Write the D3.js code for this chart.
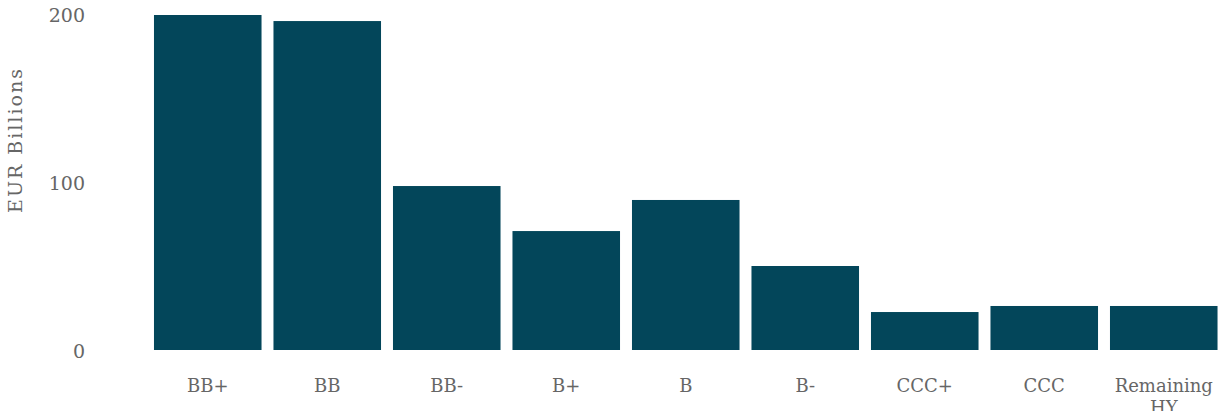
<!DOCTYPE html>
<html><head><meta charset="utf-8">
<script src="https://cdn.jsdelivr.net/npm/d3@7"></script>
<style>body{margin:0;background:#fff}svg{display:block}text{font-family:"DejaVu Serif","Liberation Serif",serif;fill:#666}</style>
</head><body><svg id="c" width="1219" height="411"></svg>
<script>
const categories = ["BB+","BB","BB-","B+","B","B-","CCC+","CCC","Remaining HY"];
const values = [199.4,195.8,97.6,70.8,89.3,50.0,22.6,26.2,26.2];
const yTicks = [0,100,200];
const yLabel = "EUR Billions";

const svg = d3.select("#c");
const x = d3.scaleBand().domain(categories).range([148,1223.5]).paddingInner(0.1).paddingOuter(0.05);
const y = d3.scaleLinear().domain([0,200]).range([350,14]);

svg.append("g").selectAll("rect").data(categories).join("rect")
  .attr("x",d=>x(d)).attr("width",x.bandwidth())
  .attr("y",(d,i)=>y(values[i])).attr("height",(d,i)=>y(0)-y(values[i]))
  .attr("fill","#03465a");

svg.append("g").selectAll("text").data(yTicks).join("text")
  .attr("x",85).attr("y",d=>y(d)+8).attr("text-anchor","end")
  .style("font-size","19px").text(d=>d);

const xl = svg.append("g").selectAll("text").data(categories).join("text")
  .attr("x",d=>x(d)+x.bandwidth()/2).attr("y",392).attr("text-anchor","middle")
  .style("font-size","18px");
xl.each(function(d){
  const words = d.split(" ");
  const t = d3.select(this);
  words.forEach((w,i)=>t.append("tspan").attr("x",x(d)+x.bandwidth()/2).attr("dy",i?"1.2em":0).text(w));
});

svg.append("text").attr("transform","translate(22,140) rotate(-90)")
  .attr("text-anchor","middle").style("font-size","19px").style("letter-spacing","2px").text(yLabel);
</script></body></html>
